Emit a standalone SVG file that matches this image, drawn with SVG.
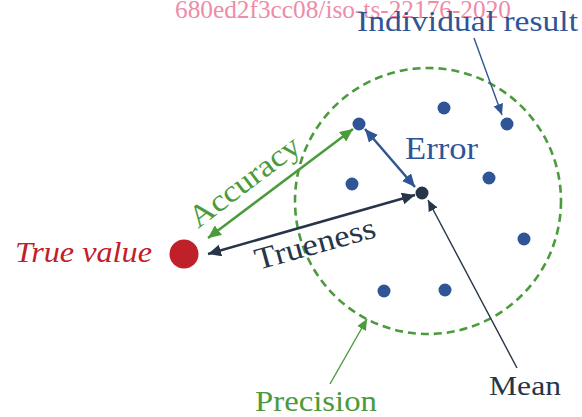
<svg xmlns="http://www.w3.org/2000/svg" width="582" height="417" viewBox="0 0 582 417">
<style>
text{font-family:"Liberation Serif","DejaVu Serif",serif}
.blue{fill:#2F5597}
.green{fill:#4B9B3D}
.dark{fill:#263548}
</style>
<defs>
<marker id="hb" markerUnits="userSpaceOnUse" markerWidth="14" markerHeight="12" viewBox="0 0 14 12" refX="13" refY="6" orient="auto-start-reverse"><path d="M0,0 L13,6 L0,12 Z" fill="#2F5597"/></marker>
<marker id="hg" markerUnits="userSpaceOnUse" markerWidth="14" markerHeight="12" viewBox="0 0 14 12" refX="13" refY="6" orient="auto-start-reverse"><path d="M0,0 L13,6 L0,12 Z" fill="#4B9B3D"/></marker>
<marker id="hd" markerUnits="userSpaceOnUse" markerWidth="14" markerHeight="12" viewBox="0 0 14 12" refX="13" refY="6" orient="auto-start-reverse"><path d="M0,0 L13,6 L0,12 Z" fill="#263548"/></marker>
<marker id="sb" markerUnits="userSpaceOnUse" markerWidth="12" markerHeight="10" viewBox="0 0 12 10" refX="11" refY="5" orient="auto"><path d="M0,0 L11,5 L0,10 Z" fill="#2F5597"/></marker>
<marker id="sg" markerUnits="userSpaceOnUse" markerWidth="12" markerHeight="10" viewBox="0 0 12 10" refX="11" refY="5" orient="auto"><path d="M0,0 L11,5 L0,10 Z" fill="#4B9B3D"/></marker>
<marker id="sd" markerUnits="userSpaceOnUse" markerWidth="12" markerHeight="10" viewBox="0 0 12 10" refX="11" refY="5" orient="auto"><path d="M0,0 L11,5 L0,10 Z" fill="#263548"/></marker>
</defs>

<text x="175" y="18" font-size="25" fill="#EE8BA6" textLength="336" lengthAdjust="spacingAndGlyphs">680ed2f3cc08/iso-ts-22176-2020</text>

<g id="precision-circle">
<circle cx="428" cy="201" r="133" fill="none" stroke="#4B9B3D" stroke-width="2.6" stroke-dasharray="8,5"/>
</g>

<g id="connectors">
<line x1="208" y1="238" x2="353" y2="129" stroke="#4B9B3D" stroke-width="2.5" marker-start="url(#hg)" marker-end="url(#hg)"/>
<line x1="365" y1="129" x2="415" y2="187" stroke="#2F5597" stroke-width="2.5" marker-start="url(#hb)" marker-end="url(#hb)"/>
<line x1="208" y1="254" x2="415" y2="195" stroke="#263548" stroke-width="2.5" marker-start="url(#hd)" marker-end="url(#hd)"/>
<line x1="474" y1="38" x2="502" y2="115" stroke="#2F5597" stroke-width="1.4" marker-end="url(#sb)"/>
<line x1="517" y1="368" x2="428" y2="200" stroke="#263548" stroke-width="1.4" marker-end="url(#sd)"/>
<line x1="330" y1="384" x2="367" y2="319" stroke="#4B9B3D" stroke-width="1.4" marker-end="url(#sg)"/>
</g>

<g id="results">
<circle cx="359" cy="124" r="6.5" fill="#2F5597"/>
<circle cx="444" cy="108" r="6.5" fill="#2F5597"/>
<circle cx="507" cy="124" r="6.5" fill="#2F5597"/>
<circle cx="352" cy="184" r="6.5" fill="#2F5597"/>
<circle cx="489" cy="178" r="6.5" fill="#2F5597"/>
<circle cx="524" cy="239" r="6.5" fill="#2F5597"/>
<circle cx="384" cy="291" r="6.5" fill="#2F5597"/>
<circle cx="445" cy="290" r="6.5" fill="#2F5597"/>
</g>

<g id="mean"><circle cx="422" cy="193" r="6.5" fill="#263548"/></g>

<g id="true-value">
<circle cx="184" cy="254" r="14.5" fill="#C0202A"/>
<text x="15" y="262" font-size="30" font-style="italic" fill="#C0202A" textLength="137" lengthAdjust="spacingAndGlyphs">True value</text>
</g>

<g id="labels">
<text x="357" y="31" font-size="30" class="blue" textLength="221" lengthAdjust="spacingAndGlyphs">Individual result</text>
<text x="405" y="159" font-size="31" class="blue" textLength="73" lengthAdjust="spacingAndGlyphs">Error</text>
<text transform="translate(198,229) rotate(-37)" font-size="31" class="green" textLength="131" lengthAdjust="spacingAndGlyphs">Accuracy</text>
<text transform="translate(258,270) rotate(-15.5)" font-size="31" class="dark" textLength="124" lengthAdjust="spacingAndGlyphs">Trueness</text>
<text x="489" y="395" font-size="28" class="dark" textLength="72" lengthAdjust="spacingAndGlyphs">Mean</text>
<text x="255" y="411" font-size="29" class="green" textLength="122" lengthAdjust="spacingAndGlyphs">Precision</text>
</g>
</svg>
